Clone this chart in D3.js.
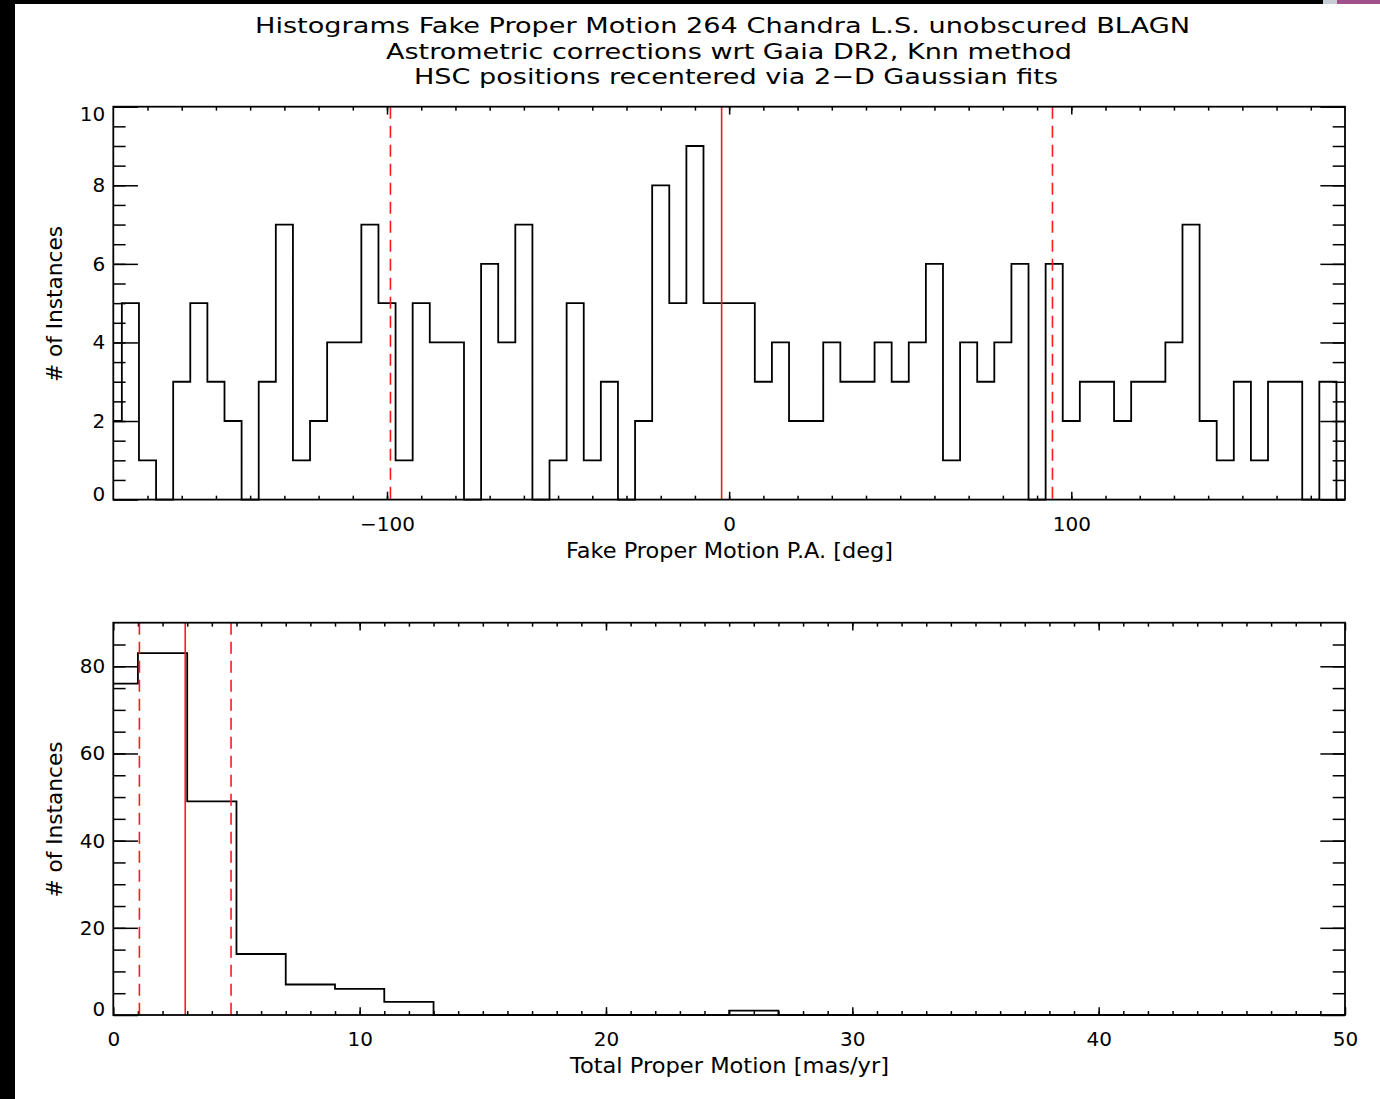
<!DOCTYPE html>
<html>
<head>
<meta charset="utf-8">
<script src="https://cdn.jsdelivr.net/npm/d3@7"></script>
<style>
  html, body { margin: 0; padding: 0; background: #fff; }
  svg { display: block; }
  text { font-family: "DejaVu Sans", "Liberation Sans", sans-serif; fill: #000; }
</style>
</head>
<body>
<svg id="chart" width="1380" height="1099"></svg>
<script>
// ---------------- DATA ----------------
const titleLines = [
  "Histograms Fake Proper Motion 264 Chandra L.S. unobscured BLAGN",
  "Astrometric corrections wrt Gaia DR2, Knn method",
  "HSC positions recentered via 2\u2212D Gaussian fits"
];
// Top panel: position-angle histogram, bin centres -180..180 every 5 deg
const paBinCenters = d3.range(-180, 181, 5);
const paCounts = [2,
  5,1,0,3,5,3,2,0,3,7,
  1,2,4,4,7,5,1,5,4,4,
  0,6,4,7,0,1,5,1,3,0,
  2,8,5,9,5,5,5,3,4,2,
  2,4,3,3,4,3,4,6,1,4,
  3,4,6,0,6,2,3,3,2,3,
  3,4,7,2,1,3,1,3,3,0,
  3,
  0];
const paMarkers = [-99.0, -2.2, 94.5];          // dashed, solid, dashed
const paMarkerStyle = ["dashed", "solid", "dashed"];
const paXTicks = [-100, 0, 100];
const paYTicks = [0, 2, 4, 6, 8, 10];
const paXLabel = "Fake Proper Motion P.A. [deg]";

// Bottom panel: total proper motion histogram, bin centres 0..50 every 2 mas/yr
const pmBinCenters = d3.range(0, 51, 2);
const pmCounts = [76, 83, 49, 14, 7, 6, 3, 0, 0, 0, 0, 0, 0, 1, 0, 0, 0, 0, 0, 0, 0, 0, 0, 0, 0, 0];
const pmMarkers = [1.06, 2.92, 4.78];
const pmMarkerStyle = ["dashed", "solid", "dashed"];
const pmXTicks = [0, 10, 20, 30, 40, 50];
const pmYTicks = [0, 20, 40, 60, 80];
const pmXLabel = "Total Proper Motion [mas/yr]";
const yLabel = "# of Instances";

// ---------------- LAYOUT ----------------
const svg = d3.select("#chart");
svg.append("rect").attr("x", 0).attr("y", 0).attr("width", 1380).attr("height", 1099).attr("fill", "#fff");
// frame artefacts of the screenshot
svg.append("rect").attr("x", 0).attr("y", 0).attr("width", 15).attr("height", 1099).attr("fill", "#000");
svg.append("rect").attr("x", 0).attr("y", 0).attr("width", 1380).attr("height", 4).attr("fill", "#000");
svg.append("rect").attr("x", 1323).attr("y", 0).attr("width", 14).attr("height", 4).attr("fill", "#c8ccd4");
svg.append("rect").attr("x", 1337).attr("y", 0).attr("width", 43).attr("height", 4).attr("fill", "#a0508a");

const L = 113.3, R = 1345;
const titleY = [33, 59, 84];
const titleX = [722.5, 729, 736];
const titleLen = [935, 686, 644];
titleLines.forEach((t, i) => {
  svg.append("text").attr("x", titleX[i]).attr("y", titleY[i])
    .attr("text-anchor", "middle").attr("font-size", 21.5)
    .attr("textLength", titleLen[i]).attr("lengthAdjust", "spacingAndGlyphs")
    .text(t);
});

function panel(cfg) {
  const T = cfg.top, B = cfg.bottom;
  const x = d3.scaleLinear().domain(cfg.xDomain).range([L, R]);
  const y = d3.scaleLinear().domain(cfg.yDomain).range([B, T]);
  const g = svg.append("g");
  const majX = (B - T) * 0.02, minX = majX / 2;
  const majY = (R - L) * 0.02, minY = majY / 2;

  const style = sel => {
    sel.select(".domain").remove();
    sel.selectAll("line").attr("stroke", "#000").attr("stroke-width", 1.5);
    sel.selectAll("text").attr("font-size", 20).attr("fill", "#000")
       .attr("font-family", "DejaVu Sans, sans-serif");
  };

  // minor ticks
  g.append("g").attr("transform", `translate(0,${B})`)
    .call(d3.axisBottom(x).tickValues(cfg.xMinor).tickSize(-minX).tickFormat("")).call(style);
  g.append("g").attr("transform", `translate(0,${T})`)
    .call(d3.axisTop(x).tickValues(cfg.xMinor).tickSize(-minX).tickFormat("")).call(style);
  g.append("g").attr("transform", `translate(${L},0)`)
    .call(d3.axisLeft(y).tickValues(cfg.yMinor).tickSize(-minY).tickFormat("")).call(style);
  g.append("g").attr("transform", `translate(${R},0)`)
    .call(d3.axisRight(y).tickValues(cfg.yMinor).tickSize(-minY).tickFormat("")).call(style);

  // major ticks
  g.append("g").attr("transform", `translate(0,${B})`)
    .call(d3.axisBottom(x).tickValues(cfg.xTicks).tickSize(-majX).tickPadding(17)).call(style);
  g.append("g").attr("transform", `translate(0,${T})`)
    .call(d3.axisTop(x).tickValues(cfg.xTicks).tickSize(-majX).tickFormat("")).call(style);
  const yl = g.append("g").attr("transform", `translate(${L},0)`)
    .call(d3.axisLeft(y).tickValues(cfg.yTicks).tickSize(-majY).tickPadding(8)).call(style);
  g.append("g").attr("transform", `translate(${R},0)`)
    .call(d3.axisRight(y).tickValues(cfg.yTicks).tickSize(-majY).tickFormat("")).call(style);

  const yMin = cfg.yDomain[0], yMax = cfg.yDomain[1];
  yl.selectAll(".tick text").attr("transform", d => d === yMin ? "translate(0,-6)" : (d === yMax ? "translate(0,7)" : null));

  // histogram
  const line = d3.line().x(d => x(d[0])).y(d => y(d[1])).curve(d3.curveStep);
  g.append("path").datum(cfg.centers.map((c, i) => [c, cfg.counts[i]]))
    .attr("d", line).attr("fill", "none").attr("stroke", "#000").attr("stroke-width", 1.8);

  // markers
  cfg.markers.forEach((m, i) => {
    g.append("line").attr("x1", x(m)).attr("x2", x(m)).attr("y1", T).attr("y2", B)
      .attr("stroke", "#ff1a1a").attr("stroke-width", 1.6)
      .attr("stroke-dasharray", cfg.markerStyle[i] === "dashed" ? "12,7" : null);
  });

  // box
  g.append("rect").attr("x", L).attr("y", T).attr("width", R - L).attr("height", B - T)
    .attr("fill", "none").attr("stroke", "#000").attr("stroke-width", 1.8);

  // labels
  svg.append("text").attr("x", 729.5).attr("y", cfg.xLabelY).attr("text-anchor", "middle")
    .attr("font-size", 21).attr("textLength", cfg.xLabelLen).attr("lengthAdjust", "spacingAndGlyphs")
    .text(cfg.xLabel);
  svg.append("text").attr("transform", `translate(62,${cfg.yLabelCenter}) rotate(-90)`)
    .attr("text-anchor", "middle").attr("font-size", 21)
    .attr("textLength", 156).attr("lengthAdjust", "spacingAndGlyphs")
    .text(yLabel);
}

panel({
  top: 106.7, bottom: 499.6,
  xDomain: [-180, 180], yDomain: [0, 10],
  xTicks: paXTicks, yTicks: paYTicks,
  xMinor: d3.range(-170, 171, 10), yMinor: d3.range(0.5, 10, 0.5),
  centers: paBinCenters, counts: paCounts,
  markers: paMarkers, markerStyle: paMarkerStyle,
  xLabel: paXLabel, xLabelY: 558, xLabelLen: 327, yLabelCenter: 304
});

panel({
  top: 622.7, bottom: 1015,
  xDomain: [0, 50], yDomain: [0, 90],
  xTicks: pmXTicks, yTicks: pmYTicks,
  xMinor: d3.range(1, 50, 1), yMinor: d3.range(5, 90, 5),
  centers: pmBinCenters, counts: pmCounts,
  markers: pmMarkers, markerStyle: pmMarkerStyle,
  xLabel: pmXLabel, xLabelY: 1073, xLabelLen: 319, yLabelCenter: 819.5
});
</script>
</body>
</html>
